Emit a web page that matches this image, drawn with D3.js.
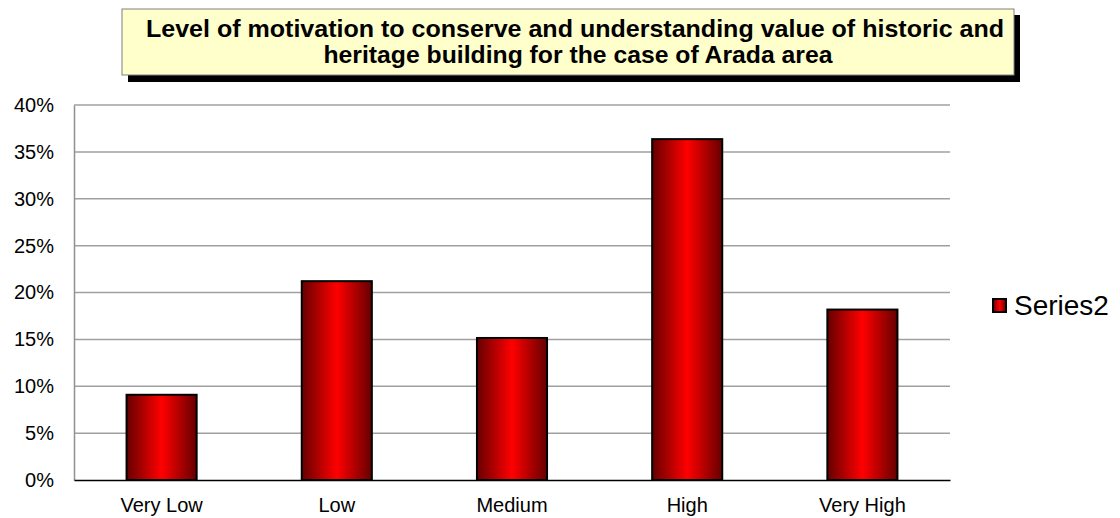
<!DOCTYPE html>
<html><head><meta charset="utf-8">
<script src="https://cdn.jsdelivr.net/npm/d3@7"></script>
<style>body{margin:0;background:#fff}svg{display:block}text{font-family:"Liberation Sans",Arial,sans-serif}</style>
</head><body><svg id="c" width="1120" height="518"></svg>
<script>
const categories = ["Very Low","Low","Medium","High","Very High"];
const values = [0.0909,0.2121,0.1515,0.3636,0.1818];
const yTicks = [0,0.05,0.10,0.15,0.20,0.25,0.30,0.35,0.40];
const seriesName = "Series2";
const titleLines = ["Level of motivation to conserve and understanding value  of historic and","heritage building  for the case of Arada area"];
const titleWidths = [858,509];

const svg = d3.select("#c");
const m = {left:74, right:950, top:105, bottom:480};
const x = d3.scaleBand().domain(categories).range([m.left,m.right]).paddingInner(0.6).paddingOuter(0.3);
const y = d3.scaleLinear().domain([0,0.4]).range([m.bottom,m.top]);

const defs = svg.append("defs");
const g = defs.append("linearGradient").attr("id","bg").attr("x1","0").attr("x2","1").attr("y1","0").attr("y2","0");
g.append("stop").attr("offset","0").attr("stop-color","#660000");
g.append("stop").attr("offset","0.5").attr("stop-color","#ff0000");
g.append("stop").attr("offset","1").attr("stop-color","#660000");

// gridlines
svg.append("g").selectAll("line").data(yTicks.slice(1)).join("line")
  .attr("x1",m.left).attr("x2",m.right).attr("y1",d=>y(d)).attr("y2",d=>y(d))
  .attr("stroke","#a0a0a0").attr("stroke-width",1.5);

// y axis
const ya = svg.append("g").attr("transform",`translate(${m.left},0)`)
  .call(d3.axisLeft(y).tickValues(yTicks).tickFormat(d3.format(".0%")).tickSize(0).tickPadding(20));
ya.select(".domain").attr("stroke","#909090").attr("stroke-width",1.5);
ya.selectAll("text").attr("font-size",20).attr("fill","#000").attr("font-family","Liberation Sans, Arial, sans-serif");

// bars
svg.append("g").selectAll("rect").data(values).join("rect")
  .attr("x",(d,i)=>x(categories[i])).attr("width",x.bandwidth())
  .attr("y",d=>y(d)).attr("height",d=>y(0)-y(d))
  .attr("fill","url(#bg)").attr("stroke","#000").attr("stroke-width",2);

// x axis
const xa = svg.append("g").attr("transform",`translate(0,${m.bottom})`)
  .call(d3.axisBottom(x).tickSize(0).tickPadding(18));
xa.select(".domain").attr("stroke","#000").attr("stroke-width",1.5);
xa.selectAll("text").attr("font-size",20).attr("fill","#000").attr("font-family","Liberation Sans, Arial, sans-serif");

// title box
svg.append("rect").attr("x",128).attr("y",15).attr("width",892).attr("height",67).attr("fill","#000");
svg.append("rect").attr("x",122).attr("y",9).attr("width",892).attr("height",66).attr("fill","#ffffcc").attr("stroke","#808080").attr("stroke-width",1);
svg.append("g").selectAll("text").data(titleLines).join("text")
  .attr("x",(d,i)=>i===0?575:578).attr("y",(d,i)=>37+i*26).attr("text-anchor","middle")
  .attr("font-size",24).attr("font-weight","bold").attr("fill","#000")
  .attr("textLength",(d,i)=>titleWidths[i]).attr("lengthAdjust","spacingAndGlyphs").text(d=>d);

// legend
svg.append("rect").attr("x",993).attr("y",299).attr("width",13).attr("height",13).attr("fill","url(#bg)").attr("stroke","#000").attr("stroke-width",2);
svg.append("text").attr("x",1014).attr("y",315).attr("font-size",28).attr("fill","#000").text(seriesName);
</script></body></html>
